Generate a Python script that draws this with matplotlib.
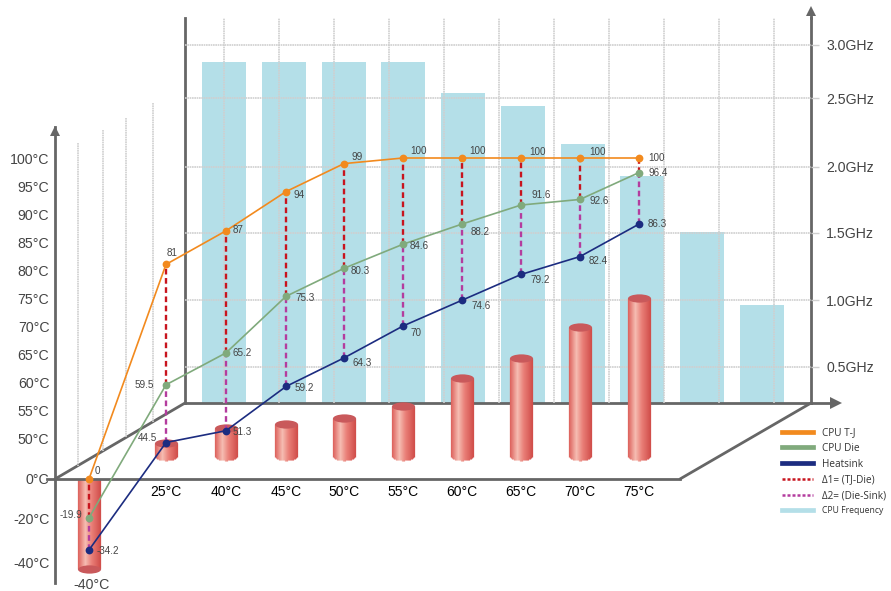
import numpy as np
import matplotlib
matplotlib.use("Agg")
import matplotlib.pyplot as plt
from matplotlib.colors import LinearSegmentedColormap
from matplotlib.lines import Line2D
from matplotlib.markers import MarkerStyle
from matplotlib.path import Path
from matplotlib.transforms import Affine2D, ScaledTranslation

# data
ambient = ["-40°C", "25°C", "40°C", "45°C", "50°C", "55°C", "60°C", "65°C", "70°C", "75°C"]
cpu_tj = [0, 81, 87, 94, 99, 100, 100, 100, 100, 100]
cpu_die = [-19.9, 59.5, 65.2, 75.3, 80.3, 84.6, 88.2, 91.6, 92.6, 97.4]     # last point drawn above its label
heatsink = [-34.2, 44.5, 51.3, 59.2, 64.3, 70, 74.6, 79.2, 82.4, 88.2]      # same here
tj_labels = ["0", "81", "87", "94", "99", "100", "100", "100", "100", "100"]
die_labels = ["-19.9", "59.5", "65.2", "75.3", "80.3", "84.6", "88.2", "91.6", "92.6", "96.4"]
sink_labels = ["-34.2", "44.5", "51.3", "59.2", "64.3", "70", "74.6", "79.2", "82.4", "86.3"]
cylinder_top = [0, 43.9, 51.8, 52.5, 53.6, 55.7, 60.7, 64.3, 69.8, 75.0]
cylinder_base = [-42.6, 28, 28, 28, 28, 28, 28, 28, 28, 28]
frequency = [2.84, 2.84, 2.84, 2.84, 2.55, 2.44, 2.17, 1.93, 1.51, 0.96]

temp_ticks = [-40, -20, 0, 50, 55, 60, 65, 70, 75, 80, 85, 90, 95, 100]
temp_labels = ["-40°C", "-20°C", "0°C", "50°C", "55°C", "60°C", "65°C", "70°C",
               "75°C", "80°C", "85°C", "90°C", "95°C", "100°C"]
ghz_ticks = [0.5, 1.0, 1.5, 2.0, 2.5, 3.0]
ghz_labels = ["0.5GHz", "1.0GHz", "1.5GHz", "2.0GHz", "2.5GHz", "3.0GHz"]

# layout: the axes in the picture are not linear, so the scales are piecewise
W, H = 891, 591
PX = 0.72  # points per pixel at dpi 100
temp_knots = [-48.9, -40, -20, 0, 50, 100, 105.5]
temp_pix = [583, 563, 518, 479, 438, 158, 127]
cat_knots = [-0.44, 0, 1, 2, 3, 4, 5, 6, 7, 8, 9, 9.7]
cat_pix = [55, 89, 166, 226, 286, 344, 403, 462, 521, 580, 639, 680]
ghz_knots = [0, 0.5, 1, 1.5, 2, 2.5, 3, 3.255]
ghz_pix = [403, 367, 300, 233, 167, 98, 45, 18]

AXIS = "#666666"
TEXT = "#444444"
GRID = "#cfcfcf"
ORANGE = "#f28a1e"
GREEN = "#80aa7c"
NAVY = "#1c2c80"
RED = "#c8141e"
PURPLE = "#b43c9e"
BLUE = "#b4dfe8"

plt.rcParams["font.family"] = ["Liberation Sans", "DejaVu Sans"]

fig = plt.figure(figsize=(W / 100, H / 100), dpi=100, facecolor="white")


def box(x0, x1, ytop, ybot):
    return [x0 / W, 1 - ybot / H, (x1 - x0) / W, (ybot - ytop) / H]


def piecewise(knots, pix, flip=False):
    sign = -1 if flip else 1
    p = [sign * v for v in pix]
    return (lambda v: np.interp(v, knots, p), lambda q: np.interp(q, p, knots))


# back wall with the frequency bars
wall = fig.add_axes(box(185, 811, 18, 403), zorder=1)
wall.set_yscale("function", functions=piecewise(ghz_knots, ghz_pix, flip=True))
wall.bar(range(len(frequency)), frequency, width=0.736, color=BLUE)
wall.set_xlim(-0.652, 9.82)
wall.set_ylim(0, 3.255)
wall.set_yticks(ghz_ticks, ghz_labels, fontsize=10.2, color=TEXT)
wall.yaxis.tick_right()
wall.tick_params(axis="y", length=6, width=1, color=GRID, pad=5)
wall.set_xticks(np.arange(11) * 55 / 59.78)
wall.tick_params(axis="x", length=0, labelbottom=False)
wall.grid(True, color=GRID, lw=1.2, ls=(0, (1, 0.4)))
wall.set_axisbelow(False)
wall.spines["top"].set_visible(False)
for s in ["left", "right", "bottom"]:
    wall.spines[s].set_color(AXIS)
    wall.spines[s].set_linewidth(2)

# pixel canvas for the floor, side wall and arrows
deco = fig.add_axes([0, 0, 1, 1], zorder=2)
deco.set_xlim(0, W)
deco.set_ylim(H, 0)
deco.axis("off")
floor = dict(color=AXIS, lw=2, solid_capstyle="round")
deco.plot([55, 185], [479, 403], **floor)
deco.plot([680, 811], [479, 403], **floor)
deco.plot([47, 55], [479, 479], color=AXIS, lw=2)
deco.plot([811, 832], [403, 403], color=AXIS, lw=2)
deco.plot([811, 811], [18, 12], color=AXIS, lw=2)
deco.plot([836], [403], marker=">", ms=8, color=AXIS, mew=0)
deco.plot([811], [11], marker="^", ms=7, color=AXIS, mew=0)
deco.plot([55], [131], marker="^", ms=7, color=AXIS, mew=0)
for xs, ys in [(78, 143), (103, 130), (126, 118), (153, 103)]:
    deco.plot([xs, xs], [ys, 479 - (xs - 55) * 76 / 130], color=GRID, lw=1.2, ls=(0, (1, 0.4)))

legend_handles = [
    Line2D([], [], color=ORANGE, lw=3.4),
    Line2D([], [], color=GREEN, lw=3.4),
    Line2D([], [], color=NAVY, lw=3.4),
    Line2D([], [], color=RED, lw=1.8, ls=(0, (1.2, 0.8))),
    Line2D([], [], color=PURPLE, lw=1.8, ls=(0, (1.2, 0.8))),
    Line2D([], [], color=BLUE, lw=3.4),
]
legend_names = ["CPU T-J", "CPU Die", "Heatsink", "Δ1= (TJ-Die)", "Δ2= (Die-Sink)", "CPU Frequency"]
leg = deco.legend(legend_handles, legend_names, loc="upper left", bbox_to_anchor=(782 / W, 1 - 427 / H),
                  frameon=False, borderpad=0, borderaxespad=0, handlelength=3.1, handletextpad=0.88,
                  labelspacing=0.48, prop={"family": ["Open Sans", "DejaVu Sans"], "size": 7.2})
for t in leg.get_texts():
    t.set_color("#333333")
leg.get_texts()[5].set_fontsize(6.2)

# front axes with temperatures
ax = fig.add_axes(box(55, 680, 127, 583), zorder=3)
ax.patch.set_alpha(0)
ax.set_xscale("function", functions=piecewise(cat_knots, cat_pix))
ax.set_yscale("function", functions=piecewise(temp_knots, temp_pix, flip=True))

# cylinders as thin vertical strips with a horizontal gradient
shade = LinearSegmentedColormap.from_list(
    "cyl", [(0, "#dc5f5a"), (0.33, "#f6bdb2"), (0.6, "#ea7f78"), (1, "#d04c49")])
cats = np.arange(len(ambient))
top = np.array(cylinder_top)
base = np.array(cylinder_base)
R = 11.5
for dx in np.arange(-R + 0.5, R, 1.0):
    u = dx / R
    bulge = 4.5 * np.sqrt(1 - u ** 2) / 0.82   # rounded foot, 0.82 px per degree below 50
    lower = base - np.where(base > 0, bulge, 0)
    shift = ScaledTranslation(dx * PX / 72, 0, fig.dpi_scale_trans)
    ax.vlines(cats, lower, top, colors=[shade((u + 1) / 2)], lw=1.25 * PX,
              transform=ax.transData + shift, zorder=2)
lid = MarkerStyle(Path.unit_circle().transformed(Affine2D().scale(1, 0.36)))
ax.scatter(cats[1:], top[1:], marker=lid, s=(23 * PX) ** 2, color="#c9595b", lw=0, zorder=3)
ax.scatter(cats[:1], base[:1], marker=lid, s=(23 * PX) ** 2, color="#c9595b", lw=0, zorder=3)

# deltas
dash = (0, (2.4, 1.5))
ax.vlines(cats, cpu_die, cpu_tj, colors=RED, lw=1.7, linestyles=[dash], zorder=4)
ax.vlines(cats, heatsink, cpu_die, colors=PURPLE, lw=1.7, linestyles=[dash], zorder=4)

# series
for values, color in [(cpu_tj, ORANGE), (cpu_die, GREEN), (heatsink, NAVY)]:
    ax.plot(cats, values, color=color, lw=1.2, marker="o", ms=5.6, mew=0, zorder=5, clip_on=False)

# value labels, offsets in pixels from the point
tj_off = [(6, 8), (1, 11), (7, 1), (7, -3), (7, 7), (7, 7), (7, 7), (8, 6), (9, 6), (9, 0)]
die_off = [(-29, 3), (-31, 0), (6, 0), (9, -2), (7, -3), (7, -2), (9, -8), (10, 10), (9, -2), (9, 0)]
sink_off = [(8, -1), (-28, 5), (7, -1), (9, -2), (8, -5), (7, -7), (9, -6), (9, -6), (9, -4), (9, 0)]
for values, labels, offs in [(cpu_tj, tj_labels, tj_off), (cpu_die, die_labels, die_off),
                             (heatsink, sink_labels, sink_off)]:
    for i, (v, s, o) in enumerate(zip(values, labels, offs)):
        ax.annotate(s, (i, v), xytext=(o[0] * PX, o[1] * PX), textcoords="offset points",
                    fontsize=7.1, color=TEXT, va="center", ha="left", zorder=6)

ax.set_xlim(-0.44, 9.7)
ax.set_ylim(-48.9, 105.5)
ax.set_xticks(cats, [""] + ambient[1:], fontsize=10.2, color=TEXT)
ax.set_yticks(temp_ticks, temp_labels, fontsize=10.2, color=TEXT)
ax.tick_params(axis="both", length=0)
ax.tick_params(axis="y", pad=4)
ax.tick_params(axis="x", pad=4)
# the -40 label sits under its cylinder, not under the floor line
ax.annotate(ambient[0], (0, -48.9), xytext=(3 * PX, -2 * PX), textcoords="offset points", annotation_clip=False,
            fontsize=10.2, color=TEXT, ha="center", va="center")
ax.spines["top"].set_visible(False)
ax.spines["right"].set_visible(False)
ax.spines["bottom"].set_position(("data", 0))
ax.spines["left"].set_color(AXIS)
ax.spines["bottom"].set_color(AXIS)
ax.spines["left"].set_linewidth(2)
ax.spines["bottom"].set_linewidth(2)

fig.savefig("out.png", dpi=100)
